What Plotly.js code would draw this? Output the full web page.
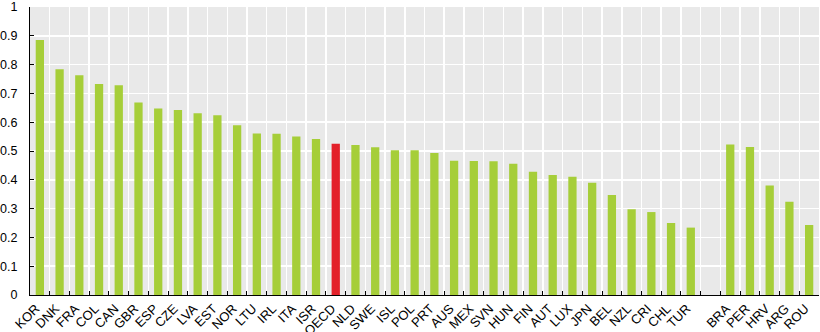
<!DOCTYPE html>
<html>
<head>
<meta charset="utf-8">
<script src="https://cdn.plot.ly/plotly-3.0.1.min.js"></script>
<style>html,body{margin:0;padding:0;background:#fff;}#chart{width:820px;height:332px;}</style>
</head>
<body>
<div id="chart"></div>
<script>
const oecdCountries = ["KOR","DNK","FRA","COL","CAN","GBR","ESP","CZE","LVA","EST","NOR","LTU","IRL","ITA","ISR","OECD","NLD","SWE","ISL","POL","PRT","AUS","MEX","SVN","HUN","FIN","AUT","LUX","JPN","BEL","NZL","CRI","CHL","TUR"];
const oecdValues = [0.885,0.784,0.763,0.733,0.728,0.668,0.648,0.642,0.631,0.624,0.589,0.561,0.560,0.550,0.542,0.525,0.521,0.513,0.503,0.503,0.493,0.466,0.465,0.464,0.456,0.428,0.417,0.411,0.390,0.347,0.298,0.288,0.250,0.234];
const partnerCountries = ["BRA","PER","HRV","ARG","ROU"];
const partnerValues = [0.523,0.514,0.380,0.324,0.243];
const gapLabel = " ";
const highlight = "OECD";

const cats = oecdCountries.concat([gapLabel], partnerCountries);
const vals = oecdValues.concat([null], partnerValues);
const colors = cats.map(c => c === highlight ? "#e3202a" : "#a6ce39");

const trace = {
  type: "bar",
  x: cats,
  y: vals,
  marker: {color: colors, line: {width: 0}},
  hoverinfo: "x+y"
};

const layout = {
  width: 820, height: 332,
  margin: {l: 30, r: 1, t: 7, b: 37, pad: 0},
  paper_bgcolor: "#ffffff",
  plot_bgcolor: "#e9e9e9",
  bargap: 0.58,
  showlegend: false,
  font: {family: "Liberation Sans, Arial, sans-serif", size: 13, color: "#000"},
  xaxis: {
    type: "category",
    categoryorder: "array",
    categoryarray: cats,
    tickson: "boundaries",
    ticks: "inside",
    ticklen: 4,
    tickcolor: "#000",
    tickwidth: 1,
    tickangle: -45,
    ticklabelshift: -4,
    showgrid: true,
    gridcolor: "#ffffff",
    gridwidth: 1.5,
    showline: true,
    linecolor: "#000",
    linewidth: 1,
    automargin: false,
    tickfont: {size: 13}
  },
  yaxis: {
    range: [0, 1],
    dtick: 0.1,
    tick0: 0,
    ticks: "inside",
    ticklen: 4,
    tickcolor: "#000",
    ticklabelstandoff: 9,
    showgrid: true,
    gridcolor: "#ffffff",
    gridwidth: 1.5,
    showline: true,
    linecolor: "#000",
    linewidth: 1,
    zeroline: false,
    automargin: false,
    tickfont: {size: 12.5}
  }
};

Plotly.newPlot("chart", [trace], layout, {displayModeBar: false, staticPlot: true});
</script>
</body>
</html>
